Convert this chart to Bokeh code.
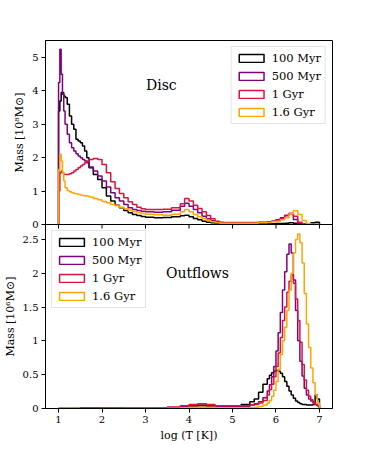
import math
from bokeh.plotting import figure
from bokeh.models import Legend, LegendItem, Label, FixedTicker, ColumnDataSource, Range1d
from bokeh.layouts import column
from bokeh.embed import file_html
from bokeh.resources import INLINE

FONT = "DejaVu Serif"

series_labels = ["100 Myr", "500 Myr", "1 Gyr", "1.6 Gyr"]
series_colors = ["#000000", "#800080", "#dc143c", "#ffa500"]

x_ticks = [1, 2, 3, 4, 5, 6, 7]
disc_y_ticks = [0, 1, 2, 3, 4, 5]
outflow_y_ticks = [0.0, 0.5, 1.0, 1.5, 2.0, 2.5]
disc_ymax = 5.51
outflow_ymax = 2.72

# ---- Disc panel (mass in 1e8 Msun), histogram bin edges in log T ----
disc_edges = [1.00, 1.03, 1.06, 1.09, 1.12, 1.15, 1.20, 1.25, 1.30, 1.35, 1.40, 1.45,
              1.50, 1.55, 1.60, 1.65, 1.70, 1.80, 1.90, 2.00, 2.10, 2.20, 2.30, 2.40,
              2.50, 2.60, 2.70, 2.80, 2.90, 3.00, 3.20, 3.40, 3.60, 3.80, 3.90, 4.00,
              4.10, 4.20, 4.30, 4.40, 4.50, 4.60, 4.70, 4.80, 5.00, 5.20, 5.40, 5.60,
              5.80, 5.90, 6.00, 6.10, 6.20, 6.30, 6.40, 6.50, 6.60, 6.70, 6.80, 6.90, 7.00]

disc_100myr = [3.40, 3.70, 3.95, 3.95, 3.85, 3.80, 3.60, 3.25, 3.00, 2.85, 2.55, 2.50,
               2.45, 2.35, 2.20, 2.00, 1.70, 1.50, 1.35, 1.10, 0.85, 0.70, 0.58, 0.50,
               0.42, 0.35, 0.30, 0.27, 0.24, 0.22, 0.20, 0.21, 0.23, 0.26, 0.28, 0.23,
               0.18, 0.14, 0.10, 0.07, 0.05, 0.03, 0.02, 0.02, 0.02, 0.02, 0.02, 0.02,
               0.02, 0.02, 0.03, 0.03, 0.04, 0.05, 0.04, 0.03, 0.02, 0.02, 0.05, 0.07]

disc_500myr = [4.25, 5.25, 4.50, 3.90, 3.40, 3.00, 2.70, 2.45, 2.30, 2.20, 2.12, 2.05,
               2.00, 1.95, 1.90, 1.85, 1.72, 1.60, 1.45, 1.30, 1.12, 0.95, 0.80, 0.70,
               0.60, 0.50, 0.45, 0.42, 0.40, 0.38, 0.37, 0.38, 0.43, 0.55, 0.64, 0.55,
               0.45, 0.35, 0.25, 0.17, 0.11, 0.07, 0.05, 0.05, 0.05, 0.05, 0.05, 0.06,
               0.08, 0.10, 0.14, 0.20, 0.28, 0.32, 0.15, 0.03, 0.01, 0.00, 0.00, 0.00]

disc_1gyr = [1.00, 1.55, 1.60, 1.55, 1.50, 1.50, 1.50, 1.52, 1.55, 1.60, 1.65, 1.70,
             1.75, 1.80, 1.85, 1.90, 1.95, 1.98, 1.95, 1.80, 1.55, 1.28, 1.08, 0.93,
             0.80, 0.68, 0.60, 0.52, 0.47, 0.45, 0.45, 0.46, 0.50, 0.62, 0.78, 0.70,
             0.58, 0.48, 0.38, 0.27, 0.17, 0.10, 0.07, 0.06, 0.06, 0.06, 0.06, 0.07,
             0.08, 0.10, 0.13, 0.18, 0.26, 0.34, 0.25, 0.07, 0.02, 0.00, 0.00, 0.00]

disc_1p6gyr = [1.65, 2.10, 1.90, 1.55, 1.30, 1.10, 1.02, 0.98, 0.95, 0.93, 0.92, 0.90,
               0.88, 0.87, 0.86, 0.85, 0.82, 0.78, 0.74, 0.69, 0.65, 0.60, 0.56, 0.52,
               0.47, 0.43, 0.39, 0.36, 0.33, 0.31, 0.29, 0.28, 0.31, 0.38, 0.45, 0.38,
               0.30, 0.23, 0.17, 0.12, 0.08, 0.05, 0.04, 0.04, 0.04, 0.04, 0.04, 0.05,
               0.06, 0.08, 0.10, 0.14, 0.20, 0.32, 0.41, 0.30, 0.12, 0.03, 0.00, 0.00]

# ---- Outflow panel (mass in 1e6 Msun) ----
outflow_edges = [1.0, 1.5, 2.0, 2.5, 3.0, 3.5, 3.8, 4.0, 4.2, 4.4, 4.6, 4.8, 5.0, 5.2,
                 5.4, 5.5, 5.6, 5.7, 5.8, 5.85, 5.9, 5.95, 6.0, 6.05, 6.1, 6.15, 6.2,
                 6.25, 6.3, 6.35, 6.4, 6.45, 6.5, 6.55, 6.6, 6.65, 6.7, 6.75, 6.8, 6.85,
                 6.9, 6.95, 7.0]

outflow_100myr = [0.00, 0.00, 0.00, 0.00, 0.005, 0.01, 0.02, 0.03, 0.04, 0.03, 0.02, 0.02,
                  0.03, 0.06, 0.10, 0.14, 0.24, 0.36, 0.44, 0.49, 0.53, 0.55, 0.56, 0.55,
                  0.52, 0.47, 0.40, 0.33, 0.26, 0.20, 0.15, 0.11, 0.09, 0.07, 0.06, 0.06,
                  0.05, 0.05, 0.05, 0.06, 0.20, 0.14]

outflow_500myr = [0.00, 0.01, 0.01, 0.01, 0.01, 0.02, 0.03, 0.04, 0.05, 0.04, 0.03, 0.03,
                  0.03, 0.03, 0.05, 0.07, 0.10, 0.16, 0.26, 0.35, 0.47, 0.62, 0.85, 1.12,
                  1.42, 1.75, 2.02, 2.28, 2.43, 2.30, 1.90, 1.45, 1.00, 0.70, 0.48, 0.30,
                  0.20, 0.14, 0.11, 0.08, 0.06, 0.04]

outflow_1gyr = [0.00, 0.00, 0.005, 0.01, 0.01, 0.02, 0.04, 0.06, 0.07, 0.06, 0.04, 0.04,
                0.04, 0.04, 0.05, 0.06, 0.08, 0.12, 0.20, 0.28, 0.36, 0.47, 0.62, 0.82,
                1.05, 1.30, 1.50, 1.72, 1.88, 1.97, 1.85, 1.62, 1.30, 0.98, 0.65, 0.42,
                0.27, 0.18, 0.13, 0.09, 0.06, 0.04]

outflow_1p6gyr = [0.00, 0.00, 0.00, 0.00, 0.00, 0.005, 0.01, 0.02, 0.02, 0.02, 0.01, 0.01,
                  0.01, 0.01, 0.01, 0.02, 0.03, 0.05, 0.08, 0.12, 0.18, 0.27, 0.40, 0.58,
                  0.80, 1.00, 1.20, 1.45, 1.75, 2.00, 2.30, 2.50, 2.58, 2.45, 2.15, 1.70,
                  1.25, 0.90, 0.60, 0.38, 0.20, 0.08]

disc_series = [disc_100myr, disc_500myr, disc_1gyr, disc_1p6gyr]
outflow_series = [outflow_100myr, outflow_500myr, outflow_1gyr, outflow_1p6gyr]


def style_axis(ax, font_size="10px"):
    ax.major_label_text_font = FONT
    ax.major_label_text_font_size = font_size
    ax.major_label_text_color = "black"
    ax.axis_label_text_font = FONT
    ax.axis_label_text_font_size = "11px"
    ax.axis_label_text_font_style = "normal"
    ax.axis_label_text_color = "black"
    ax.axis_line_color = "black"
    ax.major_tick_line_color = "black"
    ax.major_tick_in = 0
    ax.major_tick_out = 4
    ax.minor_tick_line_color = None
    ax.major_label_standoff = 3
    ax.axis_label_standoff = 3


def make_panel(height, y_end, min_top, min_bottom):
    p = figure(width=347, height=height, x_range=(0.7, 7.3), y_range=(0, y_end),
               output_backend="svg", toolbar_location=None, title=None,
               min_border_left=45, min_border_right=15,
               min_border_top=min_top, min_border_bottom=min_bottom)
    p.xgrid.grid_line_color = None
    p.ygrid.grid_line_color = None
    p.outline_line_color = "black"
    p.outline_line_alpha = 1.0
    p.outline_line_width = 1
    for ax in p.axis:
        style_axis(ax)
    p.xaxis.ticker = FixedTicker(ticks=x_ticks)
    # a range far outside the frame: the histogram bars drawn there are clipped away,
    # so that they only supply the legend's outlined-patch glyph
    p.extra_y_ranges = {"legend_only": Range1d(start=-3, end=-2)}
    return p


def add_hists(p, edges, series):
    items = []
    for vals, lab, col in zip(series, series_labels, series_colors):
        xs = [edges[0]] + list(edges)
        ys = [0.0] + list(vals) + [0.0]
        p.step(xs, ys, mode="after", line_color=col, line_width=1.5)
        src = ColumnDataSource(dict(left=list(edges[:-1]), right=list(edges[1:]),
                                    top=list(vals), bottom=[0.0] * len(vals)))
        r = p.quad(left="left", right="right", top="top", bottom="bottom", source=src,
                   y_range_name="legend_only",
                   fill_color=None, line_color=col, line_width=1.5)
        items.append(LegendItem(label=lab, renderers=[r]))
    return items


def make_legend(items, loc):
    leg = Legend(items=items, location=loc, margin=6, padding=4, spacing=4,
                 glyph_width=31, glyph_height=10, label_height=14, label_standoff=5,
                 label_text_font=FONT, label_text_font_size="11.5px",
                 label_text_color="black",
                 border_line_color="#cccccc", border_line_width=1,
                 background_fill_color="white", background_fill_alpha=0.8)
    return leg


# ---- top panel ----
p1 = make_panel(234, disc_ymax, 40, 10)
p1.yaxis.ticker = FixedTicker(ticks=disc_y_ticks)
p1.yaxis.axis_label = "Mass [10⁸M⊙]"
p1.xaxis.visible = False
items1 = add_hists(p1, disc_edges, disc_series)
p1.add_layout(make_legend(items1, "top_right"))
p1.add_layout(Label(x=3.01, y=4.19, text="Disc", text_font=FONT, text_font_size="14px",
                    text_baseline="alphabetic", text_color="black"))

# ---- bottom panel ----
p2 = make_panel(220, outflow_ymax, 0, 36)
p2.yaxis.ticker = FixedTicker(ticks=outflow_y_ticks)
p2.yaxis.axis_label = "Mass [10⁶M⊙]"
p2.xaxis.axis_label = "log (T [K])"
p2.border_fill_color = None
p2.background_fill_color = None
p2.margin = (-10, 0, 0, 0)
# the upper panel's x tick marks, which hang down across the shared edge
p2.ray(x=x_ticks, y=[outflow_ymax] * len(x_ticks), length=4, length_units="screen",
       angle=-math.pi / 2, line_color="black", line_width=1)
items2 = add_hists(p2, outflow_edges, outflow_series)
p2.add_layout(make_legend(items2, "top_left"))
p2.add_layout(Label(x=3.47, y=2.0, text="Outflows", text_font=FONT, text_font_size="14px",
                    text_baseline="alphabetic", text_color="black"))

layout = column(p1, p2, spacing=0)
open("out.html", "w").write(file_html(layout, INLINE))
